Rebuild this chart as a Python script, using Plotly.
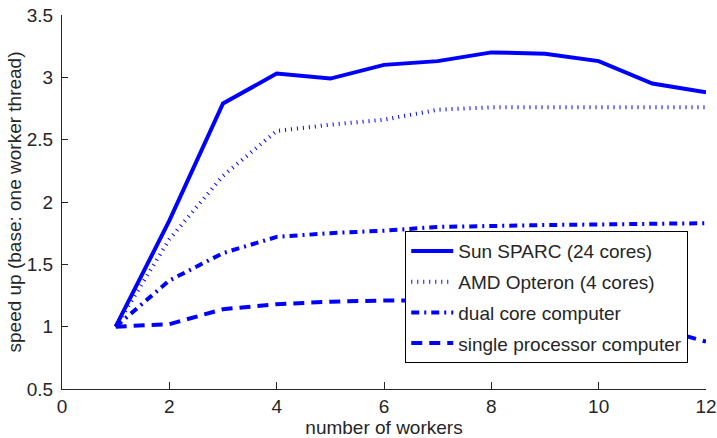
import plotly.graph_objects as go

workers = [1, 2, 3, 4, 5, 6, 7, 8, 9, 10, 11, 12]
sun_sparc = [1.0, 1.85, 2.79, 3.03, 2.99, 3.10, 3.13, 3.20, 3.19, 3.13, 2.95, 2.88]
amd_opteron = [1.0, 1.70, 2.21, 2.57, 2.62, 2.66, 2.74, 2.76, 2.76, 2.76, 2.76, 2.76]
dual_core = [1.0, 1.37, 1.59, 1.72, 1.75, 1.77, 1.80, 1.81, 1.815, 1.82, 1.825, 1.83]
single_proc = [1.0, 1.02, 1.14, 1.18, 1.20, 1.21, 1.21, 1.20, 1.18, 1.12, 1.00, 0.88]

series_names = ["Sun SPARC (24 cores)", "AMD Opteron (4 cores)",
                "dual core computer", "single processor computer"]
x_ticks = [0, 2, 4, 6, 8, 10, 12]
y_ticks = [0.5, 1, 1.5, 2, 2.5, 3, 3.5]

BLUE = "#0000FF"
FONT = "Liberation Sans, Arial, Helvetica, sans-serif"
TXT = "#262626"

styles = [
    dict(dash="solid", width=4),
    dict(dash="1px,5px", width=4),
    dict(dash="8px,5px,2px,5px", width=4),
    dict(dash="11px,7px", width=4),
]
data = [sun_sparc, amd_opteron, dual_core, single_proc]

fig = go.Figure()
for i, (name, ys, st) in enumerate(zip(series_names, data, styles)):
    fig.add_trace(go.Scatter(
        x=workers, y=ys, name=name, mode="lines",
        legendgroup=f"g{i}",
        line=dict(color=BLUE, width=st["width"], dash=st["dash"]),
    ))

fig.update_layout(
    width=717, height=438,
    margin=dict(l=62, r=11, t=15, b=49),
    paper_bgcolor="white", plot_bgcolor="white",
    font=dict(family=FONT, size=19, color=TXT),
    showlegend=True,
    legend=dict(
        x=0.533, y=0.422, xanchor="left", yanchor="top",
        bgcolor="white", bordercolor="black", borderwidth=1,
        font=dict(family=FONT, size=19, color=TXT),
        traceorder="grouped", tracegroupgap=3, itemwidth=42,
        entrywidth=230, entrywidthmode="pixels",
    ),
    xaxis=dict(
        range=[0, 12], tickvals=x_ticks, ticks="inside", ticklen=7,
        tickcolor=TXT, showline=True, linecolor=TXT, linewidth=1,
        showgrid=False, zeroline=False, automargin=False,
        title=dict(text="number of workers", standoff=0,
                   font=dict(family=FONT, size=19, color=TXT)),
    ),
    yaxis=dict(
        range=[0.5, 3.5], tickvals=y_ticks, ticks="inside", ticklen=6,
        tickcolor=TXT, showline=True, linecolor=TXT, linewidth=1,
        showgrid=False, zeroline=False, automargin=False,
        ticklabelstandoff=4,
        title=dict(text="speed up (base: one worker thread)", standoff=0,
                   font=dict(family=FONT, size=19, color=TXT)),
    ),
)

fig.write_html("out.html", config={"displayModeBar": False},
               post_script="document.body.style.margin='0';document.body.style.padding='0';")
